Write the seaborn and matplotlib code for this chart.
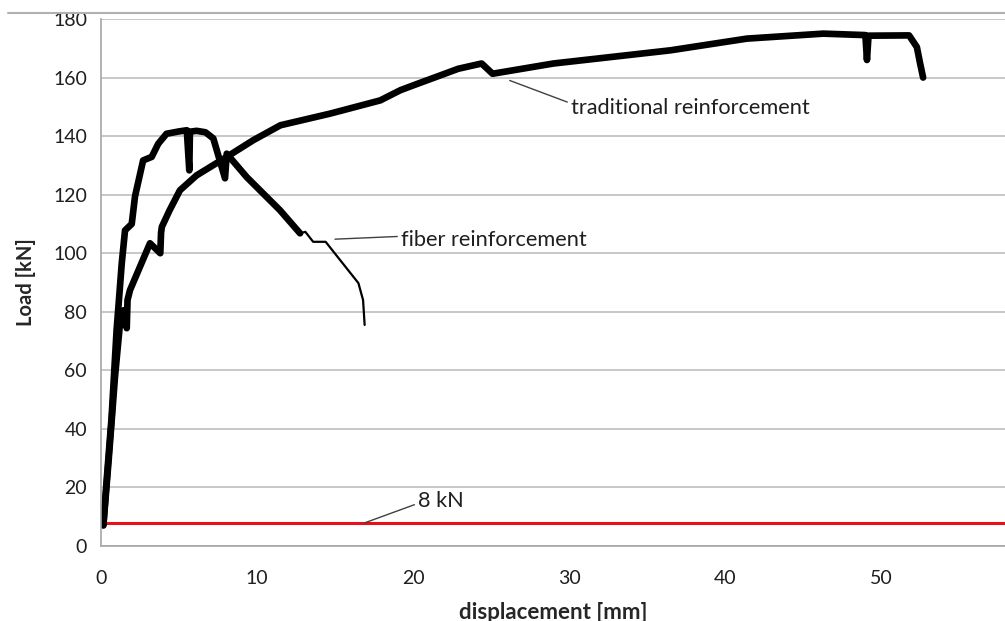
import matplotlib
matplotlib.use("Agg")
import matplotlib.pyplot as plt
import numpy as np
import pandas as pd
import seaborn as sns
from matplotlib.lines import Line2D

# displacement [mm] / load [kN]
fiber_x = [0.15, 0.4, 0.68, 1.0, 1.33, 1.54, 1.97, 2.18, 2.7, 3.25, 3.67, 4.2,
           5.0, 5.5, 5.66, 5.7, 6.13, 6.7, 7.2, 7.95, 8.06, 9.34, 11.47, 12.76,
           13.1, 13.6, 14.4, 16.5, 16.8, 16.9]
fiber_y = [7.2, 25, 44, 73.7, 96.5, 107.8, 110, 119.4, 131.7, 132.9, 137.4, 140.8,
           141.6, 142, 128.3, 141.5, 141.8, 141.3, 139.2, 125.6, 134, 126, 114.7, 106.8,
           107.3, 103.9, 103.9, 89.8, 84, 75.5]
thin_from = 23  # fiber curve turns into a thin line after this point

trad_x = [0.15, 0.5, 0.9, 1.2, 1.43, 1.65, 1.7, 1.86, 3.14, 3.8, 3.85, 3.9, 4.4,
          5.06, 6.13, 8.06, 9.76, 11.5, 14.7, 17.9, 19.2, 20.0, 22.9, 24.4,
          25.1, 29.0, 36.5, 41.4, 46.3, 49.0, 49.1, 49.2, 51.8, 52.3, 52.5, 52.7]
trad_y = [7.0, 30, 58, 75, 80.5, 74.4, 84, 87.4, 103.4, 100, 107, 109, 114.7,
          121.5, 126.6, 132.9, 138.6, 143.7, 147.7, 152.2, 155.7, 157.3, 163, 164.8,
          161.3, 164.8, 169.3, 173.3, 175, 174.5, 166, 174.3, 174.4, 170.4, 165, 160]

limit_x = [0, 58]
limit_y = [8, 8]

fiber = pd.DataFrame({"x": fiber_x, "y": fiber_y})
trad = pd.DataFrame({"x": trad_x, "y": trad_y})
limit = pd.DataFrame({"x": limit_x, "y": limit_y})

sns.set_style("white")
plt.rcParams["font.family"] = ["Lato", "DejaVu Sans"]

fig = plt.figure(figsize=(10.05, 6.21), dpi=100)
ax = fig.add_axes([101 / 1005, 1 - 546 / 621, 1 - 101 / 1005, (546 - 19) / 621])

sns.lineplot(data=limit, x="x", y="y", ax=ax, color="#e8101a", lw=2.2,
             sort=False, estimator=None)
sns.lineplot(data=trad, x="x", y="y", ax=ax, color="black", lw=4.8,
             sort=False, estimator=None)
sns.lineplot(data=fiber.iloc[:thin_from + 1], x="x", y="y", ax=ax, color="black",
             lw=4.8, sort=False, estimator=None)
sns.lineplot(data=fiber.iloc[thin_from:], x="x", y="y", ax=ax, color="black",
             lw=1.6, sort=False, estimator=None)

ax.set_xlim(0, (1005 - 101) / 15.6)
ax.set_ylim(0, 180)
ax.set_xticks(np.arange(0, 51, 10))
ax.set_yticks(np.arange(0, 181, 20))
ax.yaxis.grid(True, color="#bfbfbf", lw=1.2)
ax.xaxis.grid(False)
ax.set_axisbelow(True)
for side in ["top", "right"]:
    ax.spines[side].set_visible(False)
for side in ["left", "bottom"]:
    ax.spines[side].set_color("#a6a6a6")
    ax.spines[side].set_linewidth(1.2)
ax.tick_params(axis="both", direction="out", length=5, width=1.2, color="#a6a6a6",
               labelsize=14, labelcolor="#1f1f1f", pad=5)
ax.tick_params(axis="x", pad=12)

ax.set_xlabel("displacement [mm]", fontsize=16, fontweight="bold", labelpad=11)
ax.set_ylabel("Load [kN]", fontsize=14.5, fontweight="bold", labelpad=12)

txt = dict(fontsize=15.7, color="#1f1f1f", va="center")
ax.annotate("traditional reinforcement", xy=(26.2, 159), xytext=(30.1, 149.5),
            arrowprops=dict(arrowstyle="-", color="#404040", lw=1,
                            shrinkA=0, shrinkB=0, relpos=(0, 0.75)), **txt)
ax.annotate("fiber reinforcement", xy=(15.0, 104.8), xytext=(19.2, 104.4),
            arrowprops=dict(arrowstyle="-", color="#404040", lw=1,
                            shrinkA=0, shrinkB=0, relpos=(0, 0.7)), **txt)
ax.annotate("8 kN", xy=(16.9, 7.9), xytext=(20.3, 15.2),
            arrowprops=dict(arrowstyle="-", color="#404040", lw=1,
                            shrinkA=0, shrinkB=0, relpos=(0, 0.4)), **txt)

# page frame line at the top of the screenshot
fig.add_artist(Line2D([8 / 1005, 1], [1 - 13 / 621] * 2, color="#b0b0b0", lw=1.5,
                      transform=fig.transFigure))

fig.savefig("out.png", dpi=100)
